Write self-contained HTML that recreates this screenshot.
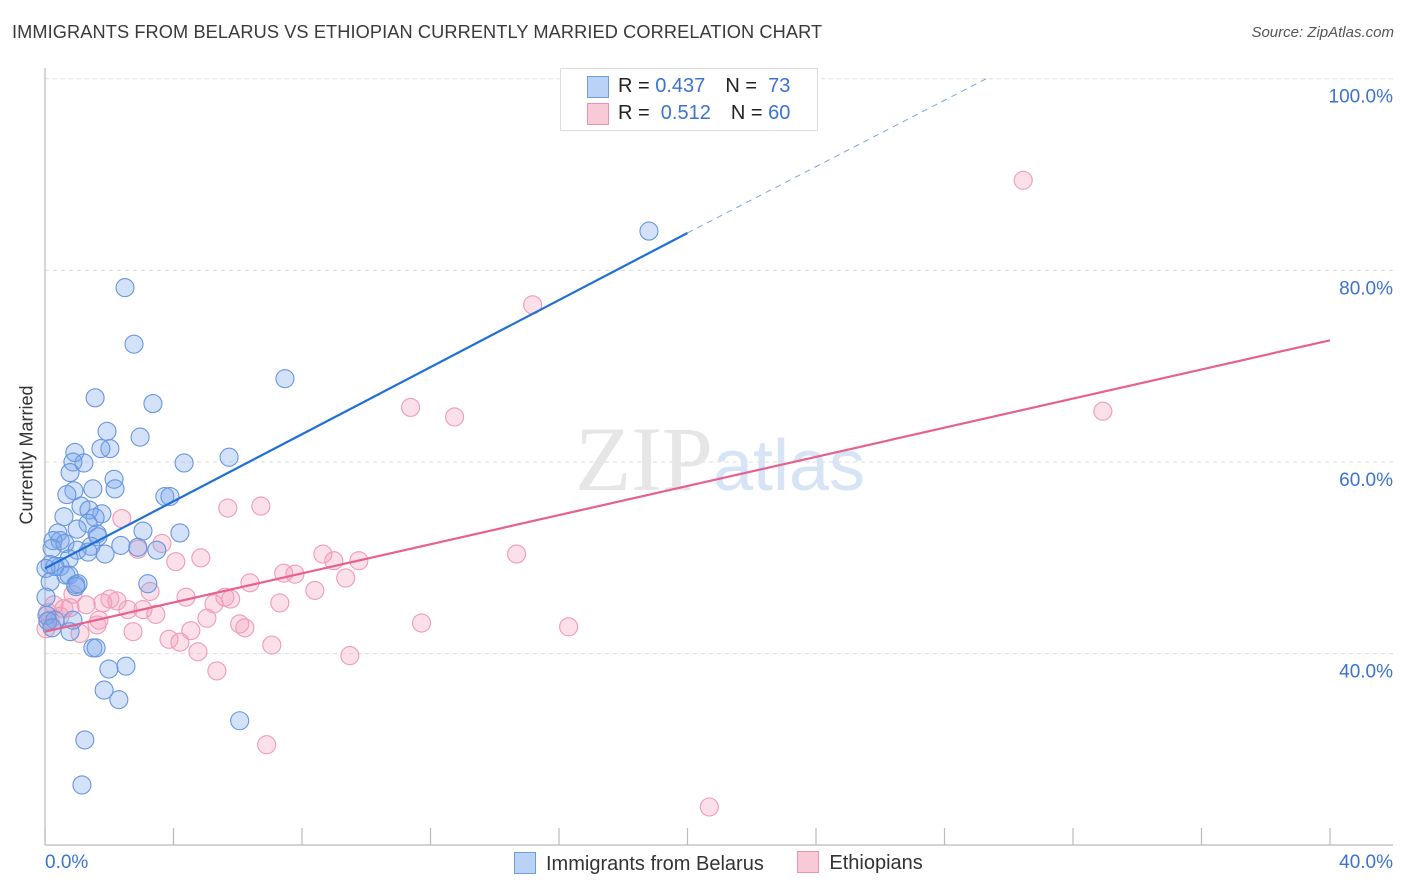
<!DOCTYPE html>
<html><head><meta charset="utf-8">
<style>
body{margin:0;background:#fff;font-family:"Liberation Sans",sans-serif;}
#wrap{position:relative;width:1406px;height:892px;overflow:hidden;}
.t{position:absolute;white-space:nowrap;}
</style></head>
<body>
<div id="wrap">
<div class="t" style="left:12px;top:22px;font-size:18.2px;color:#3a3a3a;letter-spacing:0.1px">IMMIGRANTS FROM BELARUS VS ETHIOPIAN CURRENTLY MARRIED CORRELATION CHART</div>
<div class="t" style="right:12px;top:24px;font-size:15px;color:#555;font-style:italic">Source: ZipAtlas.com</div>
<svg id="svg" width="1406" height="892" style="position:absolute;left:0;top:0"></svg>
</div>
<script>
const blueX=[2.49,2.77,1.56,3.36,7.47,18.8,1.93,2.96,2.02,1.74,0.93,0.87,1.21,4.33,5.73,0.78,2.15,0.90,1.49,0.68,2.18,3.73,3.89,1.12,1.37,1.77,0.59,1.56,1.34,0.40,1.62,3.05,4.20,1.65,0.47,0.25,0.62,2.36,1.43,2.89,0.22,1.00,1.87,3.48,1.34,0.75,0.16,0.47,0.03,0.31,0.65,0.75,0.96,1.03,0.16,3.20,0.03,0.96,0.06,0.31,0.78,0.87,1.49,1.59,2.52,1.99,1.84,2.30,6.06,1.24,1.15,0.09,0.22,1.00];
const blueY=[78.2,72.3,66.7,66.1,68.7,84.1,63.2,62.6,61.4,61.4,61.0,60.0,59.9,59.9,60.5,58.9,58.2,57.0,57.2,56.6,57.2,56.4,56.4,55.4,55.0,54.6,54.3,54.2,53.6,52.6,52.5,52.8,52.6,52.2,51.8,51.8,51.5,51.3,51.2,51.1,51.0,50.8,50.4,50.8,50.6,49.9,49.3,49.1,48.9,49.1,48.2,48.2,47.2,47.3,47.5,47.3,45.9,47.0,44.0,43.5,42.3,43.5,40.6,40.6,38.7,38.4,36.2,35.2,33.0,31.0,26.3,43.4,42.7,53.0];
const pinkX=[30.45,15.18,11.38,12.75,32.93,2.39,5.69,6.72,2.89,3.64,4.85,4.07,8.65,8.99,9.77,14.68,6.38,7.43,7.78,9.36,8.40,4.39,5.26,5.78,5.60,7.31,3.27,2.02,2.24,1.80,0.87,1.28,0.28,0.59,0.78,0.09,0.47,2.58,3.05,3.45,5.04,6.06,6.22,1.62,1.68,0.16,1.09,2.74,3.86,4.20,4.54,4.76,7.06,9.49,11.72,16.30,5.35,6.90,20.68,0.03];
const pinkY=[89.4,76.4,65.7,64.7,65.3,54.1,55.2,55.4,50.9,51.5,50.0,49.6,50.4,49.7,49.7,50.4,47.4,48.4,48.3,47.9,46.6,45.9,45.2,45.7,45.9,45.3,46.5,45.7,45.5,45.3,46.2,45.1,45.1,44.7,44.8,44.3,43.9,44.6,44.6,44.1,43.7,43.1,42.7,43.0,43.5,43.5,42.1,42.3,41.5,41.2,42.4,40.2,40.9,39.8,43.2,42.8,38.2,30.5,24.0,42.6];
const blueTrendX=[0,20];const blueTrendY=[48.9,83.9];
const blueDashX=[20,29.3];const blueDashY=[83.9,100];
const pinkTrendX=[0,40];const pinkTrendY=[42.3,72.7];
const yTicks=[100,80,60,40];const yTickLabels=["100.0%","80.0%","60.0%","40.0%"];
const xTicks=[0,4,8,12,16,20,24,28,32,36,40];

const X=v=>45+v*(1285/40);
const Y=v=>1037-v*9.583;
const svg=document.getElementById('svg');const NS='http://www.w3.org/2000/svg';
function mk(tag,attrs,parent){const e=document.createElementNS(NS,tag);for(const k in attrs)e.setAttribute(k,attrs[k]);(parent||svg).appendChild(e);return e;}

yTicks.forEach((v,i)=>{
 const g=mk('line',{x1:45,x2:1393,y1:Y(v),y2:Y(v),stroke:'#ddd','stroke-dasharray':'4,4','stroke-width':1});
 
 
 const t=mk('text',{x:1393,y:Y(v)+24,'text-anchor':'end','font-size':19,fill:'#3a73d4','font-family':'Liberation Sans, sans-serif'});
 t.textContent=yTickLabels[i];
 
 
});
const ax=mk('line',{x1:45,x2:45,y1:68,y2:845,stroke:'#bbb','stroke-width':1.2});


const bx=mk('line',{x1:45,x2:1393,y1:845,y2:845,stroke:'#bbb','stroke-width':1.2});


xTicks.forEach(v=>{const l=mk('line',{x1:X(v),x2:X(v),y1:828,y2:845,stroke:'#bbb','stroke-width':1.2});
 
 });

const wm=mk('text',{x:720,y:490,'text-anchor':'middle','font-size':92,fill:'#e6e6e6','font-family':'Liberation Serif, serif'});
wm.innerHTML='ZIP<tspan fill="#d6e4f5" font-family="Liberation Sans, sans-serif" font-size="72">atlas</tspan>';



pinkX.forEach((x,i)=>{const c=mk('circle',{cx:X(x),cy:Y(pinkY[i]),r:9,fill:'rgba(244,160,188,0.32)',stroke:'#f09ab6','stroke-width':1.1});
 
 });
blueX.forEach((x,i)=>{const c=mk('circle',{cx:X(x),cy:Y(blueY[i]),r:9,fill:'rgba(120,165,235,0.32)',stroke:'#6696de','stroke-width':1.1});
 
 });

const bl=mk('line',{x1:X(blueTrendX[0]),y1:Y(blueTrendY[0]),x2:X(blueTrendX[1]),y2:Y(blueTrendY[1]),stroke:'#1f6fd6','stroke-width':2.2});


const bd=mk('line',{x1:X(blueDashX[0]),y1:Y(blueDashY[0]),x2:X(blueDashX[1]),y2:Y(blueDashY[1]),stroke:'#7aa6e0','stroke-width':1,'stroke-dasharray':'6,5'});


const pl=mk('line',{x1:X(pinkTrendX[0]),y1:Y(pinkTrendY[0]),x2:X(pinkTrendX[1]),y2:Y(pinkTrendY[1]),stroke:'#e8608e','stroke-width':2.2});


</script>
<div class="t" style="left:27px;top:455px;font-size:18px;color:#333;transform:translate(-50%,-50%) rotate(-90deg)">Currently Married</div>
<div class="t" style="left:45px;top:852px;font-size:19px;color:#3a73d4">0.0%</div>
<div class="t" style="right:13px;top:852px;font-size:19px;color:#3a73d4">40.0%</div>
<div style="position:absolute;left:560px;top:68px;width:256px;height:61px;border:1px solid #ddd;background:#fff;font-size:20px;color:#222">
 <div style="position:absolute;left:26px;top:7px;width:20px;height:20px;background:#b9d2f5;border:1px solid #6c9de0"></div>
 <div class="t" style="left:57px;top:6px"><span>R = </span><span style="color:#3a73d4">0.437</span><span style="margin-left:20px">N = </span><span style="color:#3a73d4">&nbsp;73</span></div>
 <div style="position:absolute;left:26px;top:34px;width:20px;height:20px;background:#f8c9d7;border:1px solid #ec93b0"></div>
 <div class="t" style="left:57px;top:33px"><span>R = </span><span style="color:#3a73d4">&nbsp;0.512</span><span style="margin-left:20px">N = </span><span style="color:#3a73d4">60</span></div>
</div>
<div style="position:absolute;left:514px;top:851px;font-size:20px;color:#333;white-space:nowrap">
 <span style="display:inline-block;vertical-align:middle"><span style="display:inline-block;width:20px;height:20px;background:#b9d2f5;border:1px solid #6c9de0;vertical-align:-4px;margin-right:10px"></span>Immigrants from Belarus</span>
 <span style="display:inline-block;margin-left:28px"><span style="display:inline-block;width:20px;height:20px;background:#f8c9d7;border:1px solid #ec93b0;vertical-align:-4px;margin-right:10px"></span>Ethiopians</span>
</div>
</body></html>
